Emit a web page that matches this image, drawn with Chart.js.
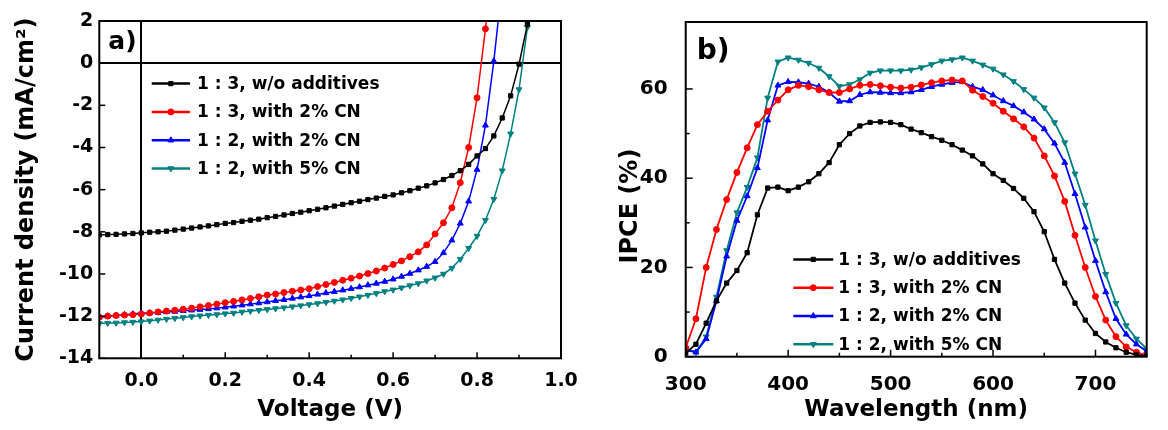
<!DOCTYPE html>
<html>
<head>
<meta charset="utf-8">
<script src="https://cdn.jsdelivr.net/npm/chart.js@4.4.0/dist/chart.umd.min.js"></script>
<style>
body{margin:0;background:#fff;width:1168px;height:430px;overflow:hidden;position:relative}
#jv{position:absolute;left:0;top:0}
#ipce{position:absolute;left:590px;top:0}
</style>
</head>
<body>
<canvas id="jv" width="590" height="430"></canvas>
<canvas id="ipce" width="578" height="430"></canvas>
<script>
// series names / look (same in both panels)
const names=['1 : 3, w/o additives','1 : 3, with 2% CN','1 : 2, with 2% CN','1 : 2, with 5% CN'];
const colors=['#000000','#ff0000','#0000ff','#008080'];
const shapes=['rect','circle','triangle','triangle'];
const turns=[0,0,0,180];

// panel a) J-V curves
const volt=[-0.1,-0.08,-0.06,-0.04,-0.02,0,0.02,0.04,0.06,0.08,0.1,0.12,0.14,0.16,0.18,0.2,0.22,0.24,0.26,0.28,0.3,0.32,0.34,0.36,0.38,0.4,0.42,0.44,0.46,0.48,0.5,0.52,0.54,0.56,0.58,0.6,0.62,0.64,0.66,0.68,0.7,0.72,0.74,0.76,0.78,0.8,0.82,0.84,0.86,0.88,0.9,0.92];
const jBlack=[-8.15,-8.13,-8.12,-8.10,-8.08,-8.05,-8.02,-8.00,-7.97,-7.92,-7.87,-7.82,-7.77,-7.72,-7.66,-7.60,-7.56,-7.50,-7.45,-7.40,-7.33,-7.27,-7.20,-7.13,-7.07,-7.00,-6.93,-6.86,-6.78,-6.70,-6.62,-6.55,-6.47,-6.40,-6.32,-6.25,-6.15,-6.05,-5.93,-5.82,-5.68,-5.52,-5.33,-5.10,-4.80,-4.40,-4.05,-3.45,-2.60,-1.55,-0.05,1.85];
const jRed=[-12.05,-12.00,-11.97,-11.95,-11.93,-11.90,-11.85,-11.80,-11.76,-11.72,-11.67,-11.62,-11.56,-11.50,-11.43,-11.36,-11.30,-11.23,-11.16,-11.08,-11.00,-10.95,-10.88,-10.82,-10.76,-10.70,-10.60,-10.50,-10.40,-10.30,-10.20,-10.10,-9.98,-9.86,-9.72,-9.55,-9.38,-9.18,-8.95,-8.62,-8.10,-7.57,-6.86,-5.67,-4.00,-1.64,1.63,5.50];
const jBlue=[-12.05,-12.00,-11.97,-11.93,-11.90,-11.85,-11.85,-11.83,-11.80,-11.78,-11.75,-11.72,-11.69,-11.66,-11.62,-11.58,-11.53,-11.48,-11.43,-11.38,-11.33,-11.27,-11.22,-11.16,-11.10,-11.04,-10.97,-10.90,-10.84,-10.77,-10.70,-10.62,-10.53,-10.45,-10.36,-10.25,-10.12,-9.98,-9.82,-9.65,-9.42,-9.00,-8.40,-7.60,-6.55,-5.05,-2.95,0.10,3.80];
const jTeal=[-12.35,-12.33,-12.32,-12.30,-12.28,-12.26,-12.22,-12.18,-12.14,-12.10,-12.06,-12.02,-11.98,-11.95,-11.92,-11.88,-11.85,-11.80,-11.76,-11.72,-11.68,-11.64,-11.60,-11.55,-11.50,-11.45,-11.40,-11.34,-11.28,-11.22,-11.15,-11.08,-11.00,-10.92,-10.83,-10.75,-10.65,-10.55,-10.45,-10.32,-10.18,-10.00,-9.72,-9.30,-8.78,-8.20,-7.45,-6.45,-5.10,-3.35,-1.25,1.70];
const jvXLabels=['0.0','0.2','0.4','0.6','0.8','1.0'];
const jvYLabels=['2','0','-2','-4','-6','-8','-10','-12','-14'];

// panel b) IPCE spectra
const wave=[300,310,320,330,340,350,360,370,380,390,400,410,420,430,440,450,460,470,480,490,500,510,520,530,540,550,560,570,580,590,600,610,620,630,640,650,660,670,680,690,700,710,720,730,740,750];
const ipceBlack=[0.8,2.8,7.5,12.5,16.5,19.3,23.3,31.8,37.8,38.0,37.2,38.0,39.2,41.0,43.5,47.5,50.0,51.7,52.5,52.6,52.5,52.0,51.0,50.2,49.3,48.5,47.5,46.3,45.0,43.2,41.0,39.5,37.7,35.5,32.5,28.0,21.8,16.5,12.0,8.2,5.2,3.3,2.0,1.0,0.4,0.2];
const ipceRed=[2.0,8.5,20.0,28.5,35.2,41.3,46.8,52.0,55.0,57.5,59.8,60.8,60.5,59.8,59.2,59.2,60.0,60.8,61.0,60.7,60.4,60.2,60.4,60.9,61.4,61.8,62.0,61.8,59.7,58.3,56.8,55.0,53.3,51.5,49.0,45.0,40.5,34.8,27.2,20.0,13.5,8.2,4.5,2.2,1.0,0.3];
const ipceBlue=[1.5,1.0,4.0,12.5,22.5,30.5,36.0,42.3,53.0,60.8,61.6,61.5,61.2,60.5,59.2,57.2,57.3,58.7,59.3,59.2,59.1,59.1,59.3,59.8,60.5,61.0,61.4,61.6,60.5,59.8,58.6,57.3,56.2,54.8,53.2,51.0,47.8,43.5,36.5,29.0,21.5,14.5,8.5,5.0,2.8,1.2];
const ipceTeal=[1.8,1.0,4.5,13.4,23.8,32.3,38.0,44.6,58.0,66.1,67.0,66.5,65.8,64.7,62.8,60.6,61.0,62.1,63.6,64.1,64.1,64.1,64.3,64.8,65.5,66.3,66.6,67.0,66.3,65.4,64.5,63.2,61.7,59.9,58.0,55.8,52.5,48.0,41.0,34.0,26.0,18.5,12.0,7.0,4.0,1.8];
const ipceXLabels=['300','400','500','600','700'];
const ipceYLabels=['0','20','40','60'];

Chart.defaults.font.family='"DejaVu Sans"';
Chart.defaults.font.weight='bold';
Chart.defaults.color='#000';

function pts(xs,ys){
	return ys.map(function(y,i){return {x:xs[i],y:y};});
}
function makeSets(xs,series,bw){
	return series.map(function(ys,i){
		return {
			label:names[i],
			data:pts(xs,ys),
			borderColor:colors[i],
			backgroundColor:colors[i],
			borderWidth:bw,
			pointStyle:shapes[i],
			pointRotation:turns[i],
			pointRadius:i>1?3.4:3,
			pointBorderWidth:1,
			tension:0
		};
	});
}
function onStep(v,step){
	const q=v/step;
	return Math.abs(q-Math.round(q))<1e-6;
}

// box, inward ticks, panel tag and legend
const frame={
	id:'frame',
	afterDatasetsDraw(chart,args,o){
		const ctx=chart.ctx,a=chart.chartArea;
		const sx=chart.scales.x,sy=chart.scales.y;
		ctx.save();
		ctx.strokeStyle='#000';
		ctx.lineWidth=2;
		ctx.strokeRect(a.left,a.top,a.right-a.left,a.bottom-a.top);
		ctx.lineWidth=1.5;
		sx.ticks.forEach(function(t){
			if(!onStep(t.value,o.xStep)) return;
			const len=t.label!==''?o.major:o.minor;
			const p=sx.getPixelForValue(t.value);
			ctx.beginPath();ctx.moveTo(p,a.bottom);ctx.lineTo(p,a.bottom-len);ctx.stroke();
		});
		sy.ticks.forEach(function(t){
			if(!onStep(t.value,o.yStep)) return;
			const len=t.label!==''?o.major:o.minor;
			const p=sy.getPixelForValue(t.value);
			ctx.beginPath();ctx.moveTo(a.left,p);ctx.lineTo(a.left+len,p);ctx.stroke();
		});
		ctx.fillStyle='#000';
		ctx.textAlign='left';
		ctx.textBaseline='alphabetic';
		ctx.font='bold '+o.tagSize+'px "DejaVu Sans"';
		ctx.fillText(o.tag,a.left+o.tagX,a.top+o.tagY);
		// legend
		ctx.font='bold 17px "DejaVu Sans"';
		ctx.textBaseline='middle';
		chart.data.datasets.forEach(function(ds,i){
			const y=a.top+o.legY+i*o.legGap;
			const x0=a.left+o.legX,x1=x0+o.legLen;
			ctx.strokeStyle=ds.borderColor;
			ctx.fillStyle=ds.borderColor;
			ctx.lineWidth=2.5;
			ctx.beginPath();ctx.moveTo(x0,y);ctx.lineTo(x1,y);ctx.stroke();
			ctx.lineWidth=1;
			Chart.helpers.drawPoint(ctx,{pointStyle:ds.pointStyle,rotation:ds.pointRotation,radius:ds.pointRadius,borderWidth:1},(x0+x1)/2,y);
			ctx.fillStyle='#000';
			ctx.fillText(ds.label,x1+o.legText,y+1);
		});
		ctx.restore();
	}
};

// panel a
new Chart(document.getElementById('jv'),{
	type:'line',
	data:{datasets:makeSets(volt,[jBlack,jRed,jBlue,jTeal],1.5)},
	options:{
		responsive:false,
		animation:false,
		events:[],
		layout:{padding:{left:0,right:29,top:21,bottom:0}},
		plugins:{
			legend:{display:false},
			tooltip:{enabled:false},
			frame:{xStep:0.1,yStep:2,major:6,minor:3.5,tag:'a)',tagSize:25,tagX:9,tagY:28,legX:52.4,legLen:38.3,legText:7,legY:62.6,legGap:28.3}
		},
		scales:{
			x:{
				type:'linear',min:-0.1,max:1.0,
				border:{display:false},
				grid:{drawTicks:false,lineWidth:2,color:function(c){return c.tick&&Math.abs(c.tick.value)<1e-9?'#000':'rgba(0,0,0,0)';}},
				ticks:{stepSize:0.1,autoSkip:false,maxRotation:0,padding:11,font:{size:19},
					callback:function(v){const s=v.toFixed(1);return jvXLabels.includes(s)?s:'';}},
				title:{display:true,text:'Voltage (V)',font:{size:23},padding:{top:0,bottom:6}},
				afterFit:function(s){s.height=71.7;}
			},
			y:{
				type:'linear',min:-14,max:2,
				border:{display:false},
				grid:{drawTicks:false,lineWidth:2,color:function(c){return c.tick&&Math.abs(c.tick.value)<1e-9?'#000':'rgba(0,0,0,0)';}},
				ticks:{stepSize:2,autoSkip:false,padding:6,font:{size:19},
					callback:function(v){const s=String(Math.round(v));return jvYLabels.includes(s)?s:'';}},
				title:{display:true,text:'Current density (mA/cm\u00b2)',font:{size:24},padding:{top:12.6,bottom:0}},
				afterFit:function(s){s.width=99.3;}
			}
		}
	},
	plugins:[frame]
});

// panel b
new Chart(document.getElementById('ipce'),{
	type:'line',
	data:{datasets:makeSets(wave,[ipceBlack,ipceRed,ipceBlue,ipceTeal],1.8)},
	options:{
		responsive:false,
		animation:false,
		events:[],
		layout:{padding:{left:0,right:21.3,top:19.3,bottom:0}},
		plugins:{
			legend:{display:false},
			tooltip:{enabled:false},
			frame:{xStep:50,yStep:10,major:7,minor:4,tag:'b)',tagSize:28,tagX:11,tagY:37,legX:107.6,legLen:40,legText:5,legY:237.4,legGap:28.3}
		},
		scales:{
			x:{
				type:'linear',min:300,max:750,
				border:{display:false},
				grid:{display:false},
				ticks:{stepSize:50,autoSkip:false,maxRotation:0,padding:8,font:{size:20},
					callback:function(v){const s=String(Math.round(v));return ipceXLabels.includes(s)?s:'';}},
				title:{display:true,text:'Wavelength (nm)',font:{size:23},padding:{top:0,bottom:6}},
				afterFit:function(s){s.width=s.width;s.height=73.3;}
			},
			y:{
				type:'linear',min:0,max:75,
				border:{display:false},
				grid:{display:false},
				ticks:{stepSize:10,autoSkip:false,padding:10,font:{size:20},
					callback:function(v){const s=String(Math.round(v));return (onStep(v,20)&&ipceYLabels.includes(s))?s:'';}},
				// trailing spaces push the rotated title a little below the middle, like the original
				title:{display:true,text:'IPCE (%)    ',font:{size:24},padding:{top:26.6,bottom:0}},
				afterFit:function(s){s.width=95.7;}
			}
		}
	},
	plugins:[frame]
});
</script>
</body>
</html>
